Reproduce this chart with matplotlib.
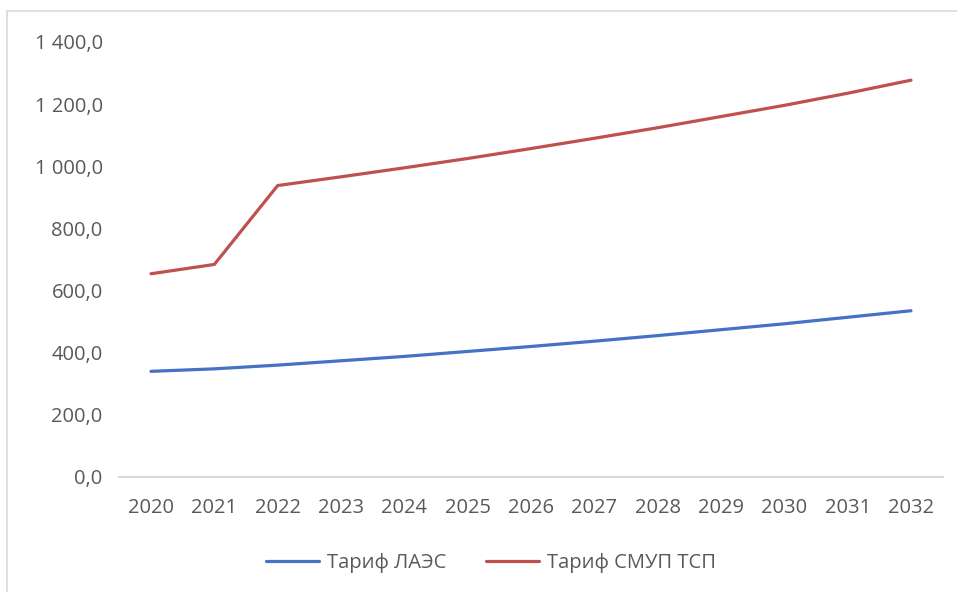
import matplotlib.pyplot as plt
from matplotlib.ticker import FuncFormatter
from matplotlib.patches import Rectangle

# --- Tariff data by year ---
years = [2020, 2021, 2022, 2023, 2024, 2025, 2026, 2027, 2028, 2029, 2030, 2031, 2032]
tariff_laes = [340, 348, 360, 374, 388, 404, 420, 437, 455, 474, 493, 514, 535]
tariff_smup = [654, 684, 938, 966, 995, 1025, 1057, 1090, 1124, 1160, 1196, 1235, 1277]
series_names = ["Тариф ЛАЭС", "Тариф СМУП ТСП"]

plt.rcParams["font.family"] = ["Open Sans", "DejaVu Sans"]
text_color = "#595959"

fig = plt.figure(figsize=(9.57, 5.92), dpi=100)
ax = fig.add_axes([0.1247, 0.1943, 0.8603, 0.7348])

# --- Outer chart border ---
fig.patches.append(Rectangle((7 / 957, -0.05), 1.1, 1 - 11 / 592 + 0.05,
                             transform=fig.transFigure, fill=False,
                             edgecolor="#D9D9D9", linewidth=1.2))

x = list(range(len(years)))
ax.plot(x, tariff_laes, color="#4472C4", linewidth=2.3, label=series_names[0],
        solid_capstyle="round")
ax.plot(x, tariff_smup, color="#C0504D", linewidth=2.3, label=series_names[1],
        solid_capstyle="round")

ax.set_xlim(-0.5, len(years) - 0.5)
ax.set_ylim(0, 1400)
ax.set_yticks(range(0, 1401, 200))
ax.set_xticks(x)
ax.set_xticklabels([str(y) for y in years])


def ru_fmt(v, pos):
    s = f"{v:,.1f}"
    return s.replace(",", " ").replace(".", ",")


ax.yaxis.set_major_formatter(FuncFormatter(ru_fmt))

for side in ["top", "right", "left"]:
    ax.spines[side].set_visible(False)
ax.spines["bottom"].set_color("#D9D9D9")
ax.spines["bottom"].set_linewidth(1.5)

ax.tick_params(axis="both", length=0, labelsize=14.5, labelcolor=text_color)
ax.tick_params(axis="x", pad=15)
ax.tick_params(axis="y", pad=12)

fig.legend(loc="center", bbox_to_anchor=(0.513, 0.049), ncol=2, frameon=False,
           fontsize=14.5, labelcolor=text_color, handlelength=2.6,
           columnspacing=2.0, handletextpad=0.4)

plt.savefig("out.png", dpi=100)
